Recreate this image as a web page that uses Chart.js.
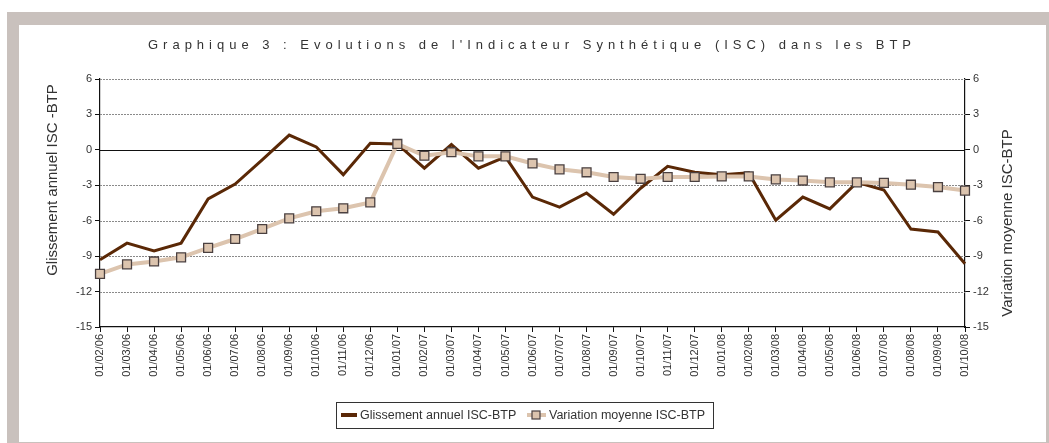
<!DOCTYPE html>
<html>
<head>
<meta charset="utf-8">
<script src="https://cdn.jsdelivr.net/npm/chart.js@4.4.0/dist/chart.umd.min.js"></script>
<style>
    html, body { margin: 0; padding: 0; background: #fff; }
    #frame { position: absolute; left: 7px; top: 12px; width: 1042px; height: 431px; background: #c9c1bd; }
    #panel { position: absolute; left: 19px; top: 25px; width: 1027px; height: 417px; background: #fff; }
</style>
</head>
<body>
<div id="frame"></div>
<div id="panel"><canvas id="chart" width="1027" height="417"></canvas></div>
<script>
    // Données
    const categories = [
        '01/02/06', '01/03/06', '01/04/06', '01/05/06', '01/06/06', '01/07/06', '01/08/06',
        '01/09/06', '01/10/06', '01/11/06', '01/12/06', '01/01/07', '01/02/07', '01/03/07',
        '01/04/07', '01/05/07', '01/06/07', '01/07/07', '01/08/07', '01/09/07', '01/10/07',
        '01/11/07', '01/12/07', '01/01/08', '01/02/08', '01/03/08', '01/04/08', '01/05/08',
        '01/06/08', '01/07/08', '01/08/08', '01/09/08', '01/10/08'
    ];
    const glissementAnnuel = [
        -9.3, -7.9, -8.55, -7.9, -4.15, -2.9, -0.85, 1.25, 0.25, -2.1, 0.55,
        0.5, -1.55, 0.45, -1.55, -0.6, -4.0, -4.85, -3.65, -5.45, -3.25, -1.4,
        -1.9, -2.1, -1.95, -5.95, -4.0, -5.0, -2.75, -3.4, -6.7, -6.95, -9.65
    ];
    const variationMoyenne = [
        -10.5, -9.7, -9.45, -9.1, -8.3, -7.55, -6.7, -5.8, -5.2, -4.95, -4.45,
        0.5, -0.5, -0.2, -0.55, -0.55, -1.15, -1.65, -1.9, -2.3, -2.45, -2.3,
        -2.3, -2.25, -2.25, -2.5, -2.6, -2.75, -2.75, -2.8, -2.95, -3.15, -3.45
    ];
    const yMin = -15, yMax = 6, yStep = 3;

    const titleText = "Graphique 3 : Evolutions de l'Indicateur Synthétique (ISC) dans les BTP";
    const leftTitle = 'Glissement annuel ISC -BTP';
    const rightTitle = 'Variation moyenne ISC-BTP';

    const darkColor = '#5a2806';
    const lightColor = '#dcc4ae';
    const markerBorder = '#4a4040';
    const textColor = '#333';
    const fontFamily = '"Liberation Sans", Arial, sans-serif';

    // Titre, titres d'axes, ligne du zéro et légende
    const decorPlugin = {
        id: 'decor',
        beforeDatasetsDraw(chart) {
            const ctx = chart.ctx;
            const area = chart.chartArea;
            const scale = chart.scales.y;
            ctx.save();
            // lignes pointillées de la grille
            ctx.strokeStyle = '#8a8a8a';
            ctx.lineWidth = 1;
            ctx.setLineDash([2, 1]);
            for (let v = yMin + yStep; v <= yMax; v += yStep) {
                if (v === 0) continue;
                const y = Math.round(scale.getPixelForValue(v)) + 0.5;
                ctx.beginPath();
                ctx.moveTo(area.left, y);
                ctx.lineTo(area.right, y);
                ctx.stroke();
            }
            ctx.setLineDash([]);
            // ligne du zéro
            const y0 = Math.round(scale.getPixelForValue(0)) + 0.5;
            ctx.strokeStyle = '#111';
            ctx.lineWidth = 1.2;
            ctx.beginPath();
            ctx.moveTo(area.left, y0);
            ctx.lineTo(area.right, y0);
            ctx.stroke();
            ctx.restore();
        },
        afterDraw(chart) {
            const ctx = chart.ctx;
            ctx.save();
            ctx.fillStyle = textColor;

            // titre espacé
            ctx.font = '13px ' + fontFamily;
            ctx.textBaseline = 'middle';
            ctx.textAlign = 'left';
            const plain = ctx.measureText(titleText).width;
            const spacing = (768 - plain) / titleText.length;
            ctx.letterSpacing = spacing + 'px';
            ctx.fillText(titleText, 513 - 384, 20);
            ctx.letterSpacing = '0px';

            // titres des axes
            ctx.font = '15px ' + fontFamily;
            ctx.textAlign = 'center';
            ctx.save();
            ctx.translate(34, 155);
            ctx.rotate(-Math.PI / 2);
            ctx.fillText(leftTitle, 0, 0);
            ctx.restore();
            ctx.save();
            ctx.translate(989, 198);
            ctx.rotate(-Math.PI / 2);
            ctx.fillText(rightTitle, 0, 0);
            ctx.restore();

            // légende
            ctx.strokeStyle = '#333';
            ctx.lineWidth = 1;
            ctx.strokeRect(317.5, 377.5, 377, 26);
            const ly = 390;
            ctx.strokeStyle = darkColor;
            ctx.lineWidth = 4;
            ctx.beginPath(); ctx.moveTo(322, ly); ctx.lineTo(338, ly); ctx.stroke();
            ctx.strokeStyle = lightColor;
            ctx.beginPath(); ctx.moveTo(508, ly); ctx.lineTo(527, ly); ctx.stroke();
            ctx.fillStyle = lightColor;
            ctx.fillRect(513, ly - 4, 8, 8);
            ctx.strokeStyle = markerBorder;
            ctx.lineWidth = 1.2;
            ctx.strokeRect(513, ly - 4, 8, 8);
            ctx.fillStyle = textColor;
            ctx.font = '12.5px ' + fontFamily;
            ctx.textAlign = 'left';
            ctx.fillText(chart.data.datasets[0].label, 341, ly + 1);
            ctx.fillText(chart.data.datasets[1].label, 530, ly + 1);
            ctx.restore();
        }
    };

    const tickFont = { family: fontFamily, size: 11 };

    new Chart(document.getElementById('chart'), {
        type: 'line',
        data: {
            labels: categories,
            datasets: [{
                label: 'Glissement annuel ISC-BTP',
                data: glissementAnnuel,
                borderColor: darkColor,
                borderWidth: 3,
                pointRadius: 0,
                tension: 0,
                yAxisID: 'y',
                order: 1
            }, {
                label: 'Variation moyenne ISC-BTP',
                data: variationMoyenne,
                borderColor: lightColor,
                borderWidth: 4,
                pointStyle: 'rect',
                pointRadius: 6.3,
                pointBackgroundColor: lightColor,
                pointBorderColor: markerBorder,
                pointBorderWidth: 1.3,
                tension: 0,
                yAxisID: 'y2',
                order: 0
            }]
        },
        options: {
            responsive: false,
            animation: false,
            layout: { padding: { top: 54, left: 0, right: 0, bottom: 0 } },
            plugins: {
                legend: { display: false },
                title: { display: false },
                tooltip: { enabled: false }
            },
            scales: {
                x: {
                    offset: false,
                    grid: { drawOnChartArea: false, drawTicks: true, tickLength: 5, color: '#111' },
                    border: { color: '#111', width: 1.2 },
                    ticks: { autoSkip: false, minRotation: 90, maxRotation: 90, padding: 2, color: textColor, font: tickFont },
                    afterFit(scale) { scale.height = 115; }
                },
                y: {
                    position: 'left',
                    min: yMin, max: yMax,
                    grid: { drawOnChartArea: false, tickLength: 5, tickColor: '#111' },
                    border: { color: '#111', width: 1.2 },
                    ticks: { stepSize: yStep, padding: 3, color: textColor, font: tickFont },
                    afterFit(scale) { scale.width = 81; }
                },
                y2: {
                    position: 'right',
                    min: yMin, max: yMax,
                    grid: { drawOnChartArea: false, tickLength: 5, tickColor: '#111' },
                    border: { color: '#111', width: 1.2 },
                    ticks: { stepSize: yStep, padding: 3, color: textColor, font: tickFont },
                    afterFit(scale) { scale.width = 81; }
                }
            }
        },
        plugins: [decorPlugin]
    });
</script>
</body>
</html>
